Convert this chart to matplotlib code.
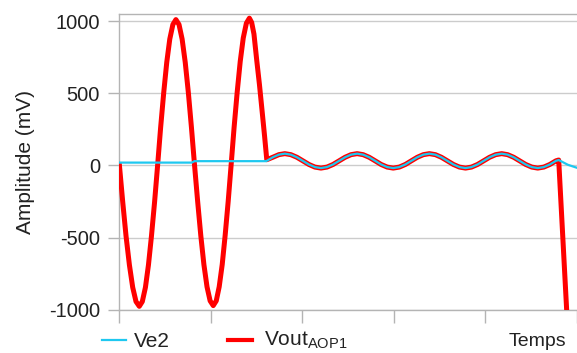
import matplotlib
matplotlib.use("Agg")
import matplotlib.pyplot as plt
from matplotlib.lines import Line2D

# Données (temps en graduations, amplitude en mV)

# Vout AOP1 : grandes oscillations au début
temps_vout_debut = [0.000, 0.036, 0.072, 0.109, 0.145, 0.181, 0.217,
                    0.250, 0.284, 0.317, 0.350, 0.384, 0.417,
                    0.450, 0.484, 0.517, 0.550, 0.584, 0.617,
                    0.651, 0.685, 0.719, 0.753, 0.787, 0.821,
                    0.855, 0.889, 0.923, 0.957, 0.991, 1.025,
                    1.058, 1.090, 1.123, 1.155, 1.188, 1.220,
                    1.253, 1.287, 1.320, 1.353, 1.387, 1.420,
                    1.445, 1.470, 1.500, 1.530, 1.560, 1.585, 1.610]
vout_debut = [0, -253, -488, -689, -844, -942, -975,
              -942, -844, -689, -488, -253, 0,
              262, 505, 714, 875, 976, 1010,
              976, 875, 714, 505, 262, 0,
              -251, -485, -686, -840, -937, -970,
              -937, -840, -686, -485, -251, 0,
              264, 510, 721, 883, 985, 1020,
              990, 910, 730, 560, 370, 210, 40]

# Ve2 : paliers puis sinusoïde (Vout la suit)
temps_ve2_palier = [0.00, 0.79, 0.82, 1.60]
ve2_palier = [20, 20, 30, 30]

temps_sinus = [1.610, 1.676, 1.742, 1.807, 1.873, 1.939, 2.005, 2.071, 2.136, 2.202, 2.268, 2.334,
               2.400, 2.466, 2.531, 2.597, 2.663, 2.729, 2.795, 2.860, 2.926, 2.992, 3.058, 3.124,
               3.189, 3.255, 3.321, 3.387, 3.453, 3.518, 3.584, 3.650, 3.716, 3.782, 3.847, 3.913,
               3.979, 4.045, 4.111, 4.177, 4.242, 4.308, 4.374, 4.440, 4.506, 4.571, 4.637, 4.703,
               4.769, 4.800]
sinus = [32, 57, 75, 82, 75, 57, 32, 7, -11, -18, -11, 7,
         32, 57, 75, 82, 75, 57, 32, 7, -11, -18, -11, 7,
         32, 57, 75, 82, 75, 57, 32, 7, -11, -18, -11, 7,
         32, 57, 75, 82, 75, 57, 32, 7, -11, -18, -11, 7,
         32, 38]

temps_ve2_fin = [4.90, 5.00]
ve2_fin = [5, -16]

temps_vout_fin = [4.887, 4.892]
vout_fin = [-1000, -1060]

temps_ve2 = temps_ve2_palier + temps_sinus + temps_ve2_fin
ve2 = ve2_palier + sinus + ve2_fin
temps_vout = temps_vout_debut + temps_sinus[1:] + temps_vout_fin
vout = vout_debut + sinus[1:] + vout_fin

yticks = [-1000, -500, 0, 500, 1000]

plt.rcParams['font.family'] = ['Liberation Sans', 'DejaVu Sans']
plt.rcParams['mathtext.fontset'] = 'custom'
plt.rcParams['mathtext.rm'] = 'Liberation Sans'

GRIS = '#b4b4b4'
ROUGE = '#ff0000'
BLEU = '#1ec8f0'
TEXTE = '#222222'

fig = plt.figure(figsize=(5.77, 3.53), dpi=100)
ax = fig.add_axes([0.207, 0.122, 0.793, 0.838])

ax.plot(temps_vout, vout, color=ROUGE, lw=3.6, solid_joinstyle='round', zorder=3)
ax.plot(temps_ve2, ve2, color=BLEU, lw=1.6, zorder=4)

ax.set_xlim(0, 5)
ax.set_ylim(-1000, 1048)
ax.set_yticks(yticks)
ax.set_yticklabels([str(v) for v in yticks], fontsize=14.5, color=TEXTE)
ax.set_xticks([0, 1, 2, 3, 4, 5])
ax.set_xticklabels([])
ax.tick_params(axis='y', length=8, width=1, color=GRIS, pad=6)
ax.tick_params(axis='x', length=9, width=1, color=GRIS, direction='out')
ax.grid(axis='y', color='#cccccc', lw=1)
ax.set_axisbelow(True)
for s in ['left', 'top', 'bottom']:
    ax.spines[s].set_color(GRIS)
    ax.spines[s].set_linewidth(1)
ax.spines['right'].set_visible(False)

ax.set_ylabel('Amplitude (mV)', fontsize=15, color=TEXTE, labelpad=10)

# Légende en bas
y_leg = 1 - 340 / 353
fig.add_artist(Line2D([102/577, 126/577], [y_leg, y_leg], color=BLEU, lw=1.6))
fig.text(134/577, 1 - 347/353, 'Ve2', fontsize=15, va='baseline', color=TEXTE)
fig.add_artist(Line2D([228/577, 252/577], [y_leg, y_leg], color=ROUGE, lw=3))
fig.text(264/577, 1 - 345.5/353, r'Vout$_{\mathrm{AOP1}}$', fontsize=15, va='baseline', color=TEXTE)
fig.text(509/577, 1 - 346.5/353, 'Temps', fontsize=14, va='baseline', color=TEXTE)

fig.savefig('out.png', dpi=100)
